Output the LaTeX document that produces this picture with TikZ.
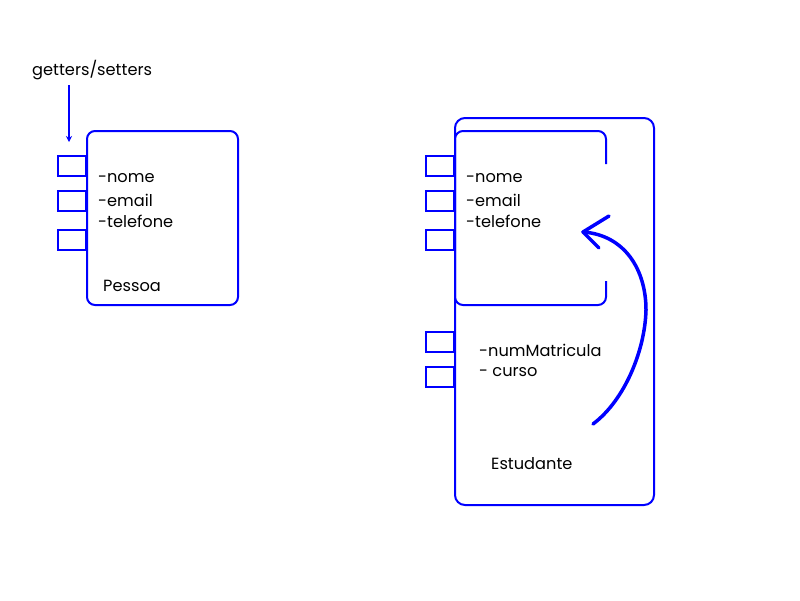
\documentclass[tikz,border=0pt]{standalone}
\usepackage{fontspec}
\setmainfont{Poppins}
\usetikzlibrary{arrows.meta}
\definecolor{ublue}{RGB}{0,0,255}
\begin{document}
\begin{tikzpicture}[x=1pt,y=-1pt,
  box/.style={draw=ublue,line width=2pt,rounded corners=8pt},
  port/.style={draw=ublue,line width=2pt},
  lbl/.style={anchor=west,inner sep=0pt,font=\fontsize{16.2}{18}\selectfont,text=black},
  hand/.style={draw=ublue,line width=3.5pt,line cap=round,line join=round}]
\useasboundingbox (0,0) rectangle (800,600);
% Pessoa
\draw[box] (87,131) rectangle (238,305);
\foreach \y in {156,191,230}{\draw[port] (58,\y) rectangle (86,\y+20);}
\node[lbl] (pn) at (98,178) {-nome};
\node[lbl] (pe) at (98,200) {-email};
\node[lbl] (pt) at (98,221) {-telefone};
\node[lbl] (pl) at (103,286) {Pessoa};
\node[lbl] (gs) at (32,70) {getters/setters};
\coordinate (gstail) at (69,85);
\coordinate (gshead) at (69,142);
\draw[ublue,line width=1.3pt,-{Stealth[length=6pt,width=6pt]}] (gstail) -- (gshead);
% Estudante
\draw[box,rounded corners=10pt] (455,118) rectangle (654,505);
\draw[box] (606,164) -- (606,131) -- (455,131) -- (455,305) -- (606,305) -- (606,281);
\foreach \y in {156,191,230,332,367}{\draw[port] (426,\y) rectangle (454,\y+20);}
\node[lbl] (en) at (466,178) {-nome};
\node[lbl] (ee) at (466,200) {-email};
\node[lbl] (et) at (466,221) {-telefone};
\node[lbl] (em) at (479,350) {-numMatricula};
\node[lbl] (ec) at (479,372) {- curso};
\node[lbl] (el) at (491,464) {Estudante};
% hand-drawn arrow
\coordinate (hs) at (593,424);
\coordinate (ht) at (583,232);
\draw[hand] (hs) .. controls (625,400) and (645,350) .. (646,310)
  .. controls (646,270) and (625,235) .. (ht);
\draw[hand] (609,216) -- (ht) -- (599,248);
\end{tikzpicture}
\end{document}
